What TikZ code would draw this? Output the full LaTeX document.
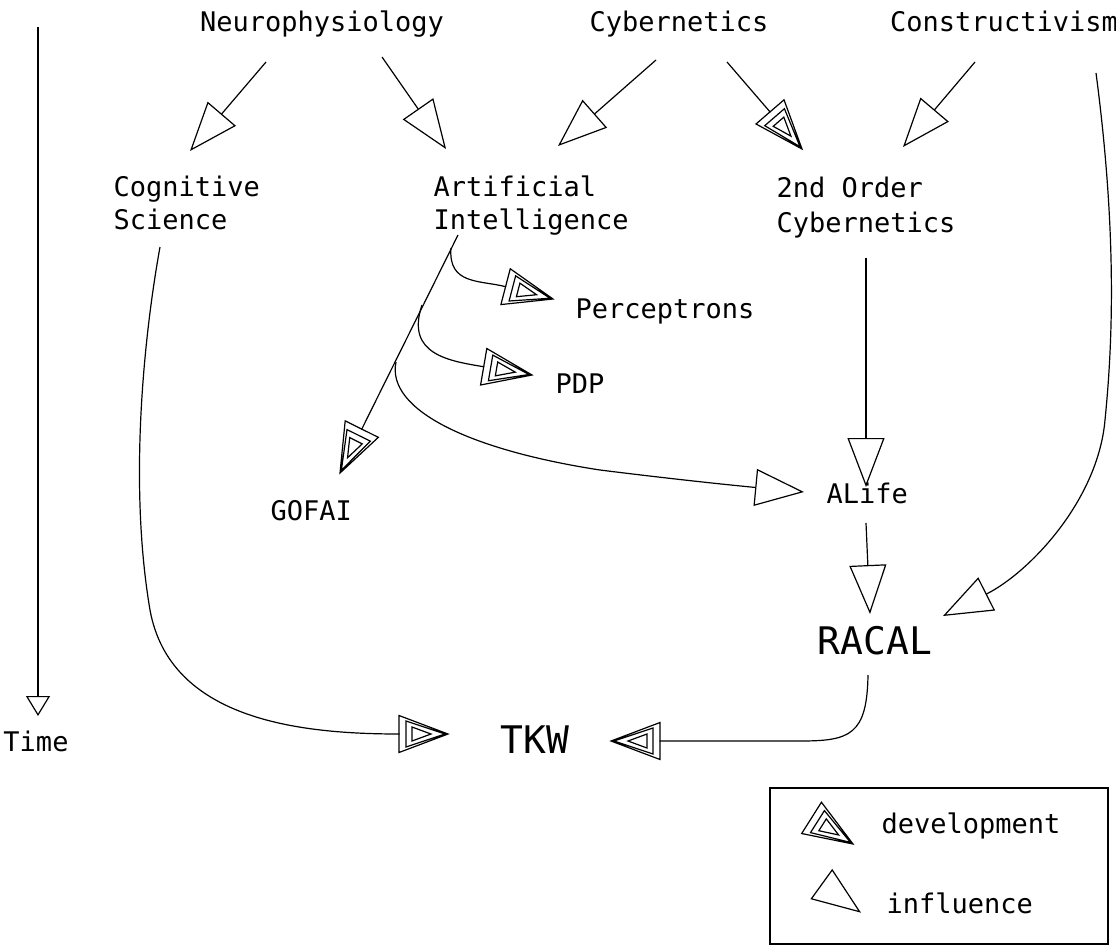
\documentclass[tikz,border=0pt]{standalone}
\usepackage{fontspec}
\setmonofont{DejaVu Sans Mono}
\usetikzlibrary{arrows.meta,calc}

% three nested open triangles: a "development"
\pgfdeclarearrow{
  name = Dev,
  setup code = {
    \pgfarrowssettipend{0pt}
    \pgfarrowssetlineend{-48.5pt}
    \pgfarrowssetbackend{-49pt}
    \pgfarrowshullpoint{0pt}{0pt}
    \pgfarrowsupperhullpoint{-49pt}{18.5pt}
  },
  drawing code = {
    \pgfsetdash{}{0pt}
    \pgfsetmiterjoin
    \pgfpathmoveto{\pgfqpoint{0pt}{0pt}}
    \pgfpathlineto{\pgfqpoint{-49pt}{18.5pt}}
    \pgfpathlineto{\pgfqpoint{-49pt}{-18.5pt}}
    \pgfpathclose
    \pgfpathmoveto{\pgfqpoint{-3pt}{0pt}}
    \pgfpathlineto{\pgfqpoint{-42pt}{13pt}}
    \pgfpathlineto{\pgfqpoint{-42pt}{-13pt}}
    \pgfpathclose
    \pgfpathmoveto{\pgfqpoint{-17pt}{0pt}}
    \pgfpathlineto{\pgfqpoint{-36pt}{7pt}}
    \pgfpathlineto{\pgfqpoint{-36pt}{-7pt}}
    \pgfpathclose
    \pgfusepathqstroke
  },
  parameters = {},
}

\tikzset{
  lbl/.style={font=\ttfamily\fontsize{27}{33}\selectfont, inner sep=0pt},
  biglbl/.style={font=\ttfamily\fontsize{38}{44}\selectfont, inner sep=0pt},
  infl/.style={-{Triangle[open,length=49pt,width=37pt]}},
  devel/.style={-Dev},
}

\begin{document}
\begin{tikzpicture}[x=1pt,y=-1pt,line width=1.2pt]
  \useasboundingbox (0,0) rectangle (1116,948);
  % sources
  \node[lbl,anchor=base] (neuro) at (322,31) {Neurophysiology};
  \node[lbl,anchor=base] (cyber) at (679,31) {Cybernetics};
  \node[lbl,anchor=base] (constr) at (1004,31) {Constructivism};
  % fields (base = last line)
  \node[lbl,anchor=base west,align=left] (cogsci) at (113,229) {Cognitive\\Science};
  \node[lbl,anchor=base west,align=left] (ai) at (433,229) {Artificial\\Intelligence};
  \node[lbl,anchor=base west,align=left,font=\ttfamily\fontsize{27}{35}\selectfont] (second) at (776,232) {2nd Order\\Cybernetics};
  \node[lbl,anchor=base west] (percep) at (575,318) {Perceptrons};
  \node[lbl,anchor=base west] (pdp) at (555,393) {PDP};
  \node[lbl,anchor=base west] (gofai) at (270,520) {GOFAI};
  \node[lbl,anchor=base west] (alife) at (826,503) {ALife};
  \node[biglbl,anchor=base] (racal) at (875,654) {RACAL};
  \node[biglbl,anchor=base] (tkw) at (535,753) {TKW};
  % time axis
  \node[lbl,anchor=base] (time) at (36,751) {Time};
  \coordinate (t0) at (38,27);
  \draw[-{Triangle[open,length=20pt,width=24pt]}] (t0) -- ($(time.base)+(2,-35)$);
  % influences from the top row
  \draw[infl] ($(neuro.base)+(-56,31)$) -- ($(cogsci.base west)+(77,-78)$);
  \draw[infl] ($(neuro.base)+(60,26)$) -- ($(ai.base west)+(13,-80)$);
  \draw[infl] ($(cyber.base)+(-23,29)$) -- ($(ai.base west)+(125,-83)$);
  \draw[devel] ($(cyber.base)+(48,31)$) -- ($(second.base west)+(26,-83)$);
  \draw[infl] ($(constr.base)+(-29,31)$) -- ($(second.base west)+(127,-85)$);
  \draw[infl] ($(constr.base)+(92,42)$) .. controls (1118,240) and (1112,350) .. (1105,420)
    .. controls (1098,500) and (1030,572) .. ($(racal.base)+(68,-38)$);
  % branches of AI
  \draw[devel] ($(ai.base west)+(25,6)$) -- ($(gofai.base west)+(70,-47)$);
  \draw[devel] ($(ai.base west)+(18,19)$) .. controls (448,285) and (480,280) .. ($(percep.base west)+(-22,-19)$);
  \draw[devel] ($(ai.base west)+(-11,76)$) .. controls (405,355) and (450,361) .. ($(pdp.base west)+(-23,-18)$);
  \draw[infl] ($(ai.base west)+(-37,133)$) .. controls (386,410) and (470,450) .. (600,470)
    .. controls (680,480) and (740,486) .. ($(alife.base west)+(-22,-11)$);
  % down to RACAL and TKW
  \draw[infl] ($(second.base west)+(90,26)$) -- ($(alife.base west)+(40,-16)$);
  \draw[infl] ($(alife.base west)+(40,20)$) -- ($(racal.base)+(-5,-40)$);
  \draw[devel] ($(cogsci.base west)+(47,18)$) .. controls (145,330) and (128,480) .. (150,610)
    .. controls (170,720) and (300,734) .. ($(tkw.base)+(-87,-19)$);
  \draw[devel] ($(racal.base)+(-7,21)$) .. controls (867,735) and (850,741) .. (800,741)
    -- ($(tkw.base)+(76,-12)$);
  % legend
  \draw (770,788) rectangle (1108,944);
  \node[lbl,anchor=base west] (devtxt) at (881,833) {development};
  \node[lbl,anchor=base west] (inftxt) at (886,913) {influence};
  \draw[devel] (811.6,817.9) -- (853,844);
  \draw[infl] (821.3,884) -- (861,912.7);
\end{tikzpicture}
\end{document}
